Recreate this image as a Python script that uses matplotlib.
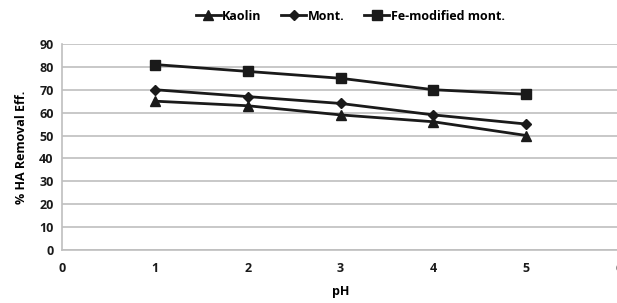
import matplotlib.pyplot as plt

ph = [1, 2, 3, 4, 5]
kaolin = [65, 63, 59, 56, 50]
mont = [70, 67, 64, 59, 55]
fe_mont = [81, 78, 75, 70, 68]

plt.rcParams['font.family'] = ['Open Sans', 'DejaVu Sans']
plt.rcParams['font.weight'] = 'bold'

fig = plt.figure(figsize=(6.17, 3.03), dpi=100)
ax = fig.add_axes([0.1005, 0.175, 0.903, 0.68])

ax.plot(ph, kaolin, color='#1a1a1a', lw=2, marker='^', ms=7, label='Kaolin')
ax.plot(ph, mont, color='#1a1a1a', lw=2, marker='D', ms=5, label='Mont.')
ax.plot(ph, fe_mont, color='#1a1a1a', lw=2, marker='s', ms=7, label='Fe-modified mont.')

ax.set_xlim(0, 6)
ax.set_ylim(0, 90)
ax.set_xticks(range(0, 7))
ax.set_yticks(range(0, 91, 10))
ax.grid(axis='y', color='#bfbfbf', lw=1.2)
ax.set_axisbelow(True)
for s in ['top', 'right']:
    ax.spines[s].set_visible(False)
for s in ['left', 'bottom']:
    ax.spines[s].set_color('#bfbfbf')
    ax.spines[s].set_linewidth(1.2)
ax.tick_params(length=0, labelsize=9, colors='#1a1a1a')
ax.tick_params(axis='x', pad=9)
ax.tick_params(axis='y', pad=6)

ax.set_xlabel('pH', fontsize=9, fontweight='bold', labelpad=7)
ax.set_ylabel('% HA Removal Eff.', fontsize=9, fontweight='bold', labelpad=8)

ax.legend(loc='center', bbox_to_anchor=(0.517, 1.135), ncol=3, frameon=False,
          fontsize=9, handlelength=2.0, columnspacing=1.6, handletextpad=0.1)

fig.savefig('out.png', dpi=100)
